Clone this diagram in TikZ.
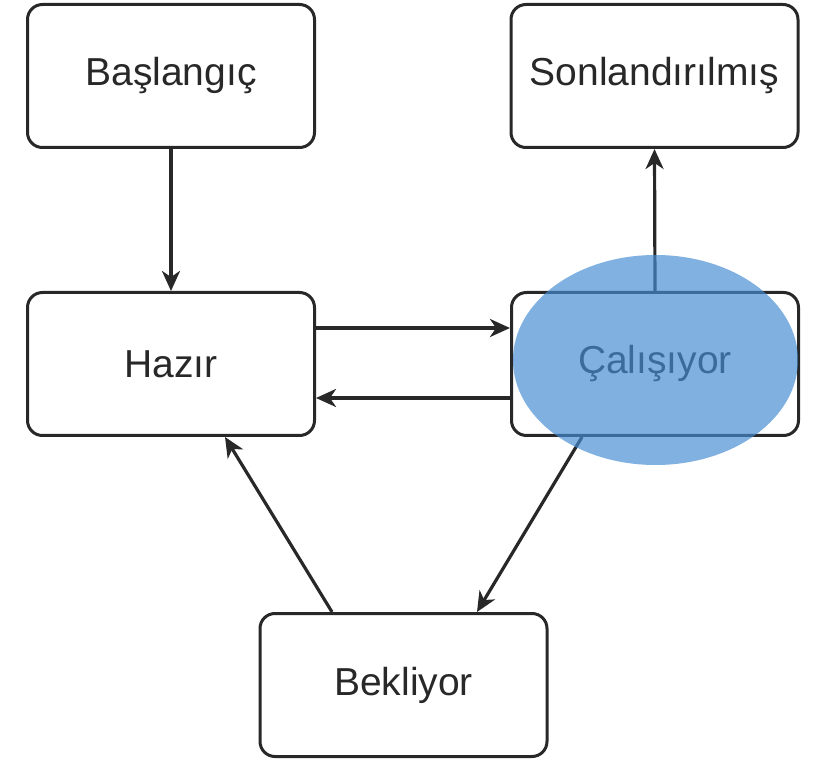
\documentclass[tikz,border=0pt]{standalone}
\usepackage{fontspec}
\setmainfont{Liberation Sans}
\usetikzlibrary{arrows.meta}
\definecolor{ink}{RGB}{40,40,40}
\definecolor{hilite}{RGB}{68,140,210}
\begin{document}
\begin{tikzpicture}[x=1pt,y=-1pt,
  state/.style={draw=ink, line width=3pt, rounded corners=15pt, fill=white,
    minimum width=287pt, minimum height=143pt, inner sep=0pt,
    font=\fontsize{39}{44}\selectfont, text=ink},
  flow/.style={draw=ink, line width=3.2pt,
    -{Stealth[length=20pt,width=18pt,inset=6pt]}}]
  \useasboundingbox (0,0) rectangle (820,759);

  % states
  \node[state] (baslangic)      at (171,76)    {Başlangıç};
  \node[state] (sonlandirilmis) at (654.5,76)  {Sonlandırılmış};
  \node[state] (hazir)          at (171,364)   {Hazır};
  \node[state] (calisiyor)      at (655,364)   {Çalışıyor};
  \node[state] (bekliyor)       at (403.5,685) {Bekliyor};

  % transitions
  \draw[flow] (baslangic.south) -- (hazir.north);
  \draw[flow] ([yshift=36pt]hazir.east) -- ([yshift=36pt]calisiyor.west);
  \draw[flow] ([yshift=-34pt]calisiyor.west) -- ([yshift=-34pt]hazir.east);
  \draw[flow] (calisiyor.north) -- (sonlandirilmis.south);
  \draw[flow] ([xshift=-73pt]calisiyor.south) -- ([xshift=73.5pt]bekliyor.north);
  \draw[flow] ([xshift=-71.5pt]bekliyor.north) -- ([xshift=54pt]hazir.south);

  % highlight over the running state
  \fill[hilite, fill opacity=0.68] (655.5,360) ellipse [x radius=142.5, y radius=105];
\end{tikzpicture}
\end{document}
